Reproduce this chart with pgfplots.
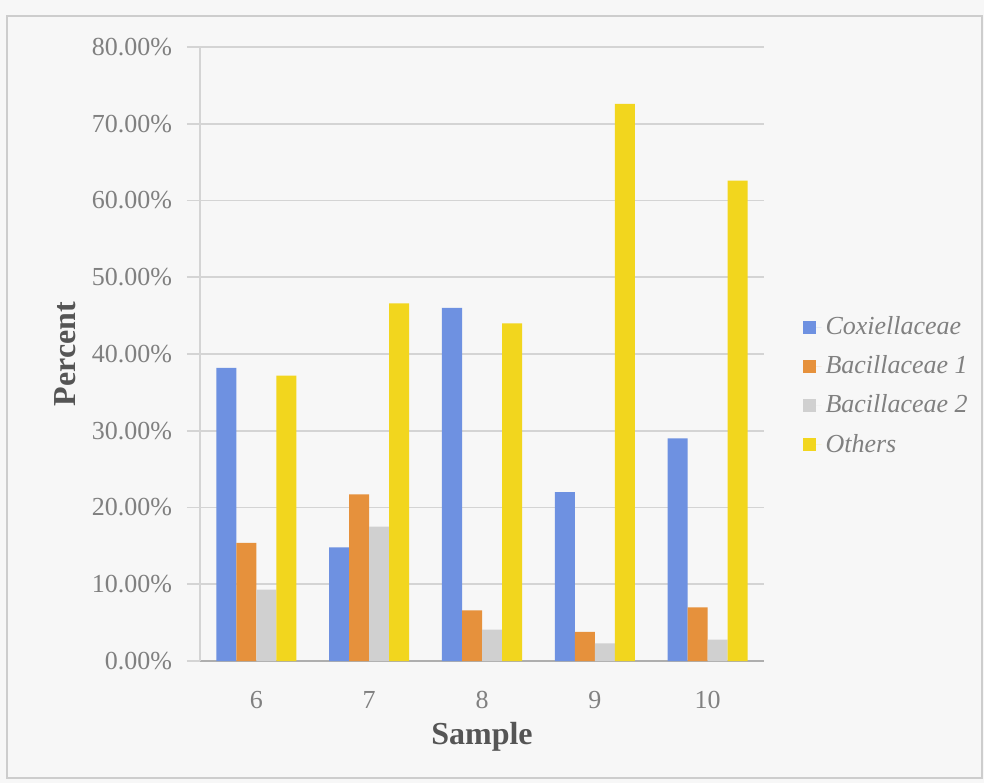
\documentclass[border=0pt]{standalone}
\usepackage{pgfplots}
\pgfplotsset{compat=1.18}
\usepackage{fontspec}
\setmainfont{Liberation Serif}
\definecolor{cox}{RGB}{110,145,225}
\definecolor{bac1}{RGB}{230,145,60}
\definecolor{bac2}{RGB}{208,208,208}
\definecolor{oth}{RGB}{242,214,30}
\definecolor{bgc}{RGB}{247,247,247}
\definecolor{framec}{RGB}{205,205,205}
\definecolor{gridc}{RGB}{212,212,212}
\definecolor{txtc}{RGB}{128,128,128}
\definecolor{labc}{RGB}{85,85,85}
\begin{document}
\begin{tikzpicture}
\fill[bgc] (-100pt,-61pt) rectangle (392pt,330.5pt);
\path[use as bounding box] (-100pt,-61pt) rectangle (392pt,330.5pt);
\draw[framec, line width=0.9pt] (-96.5pt,-58.5pt) rectangle (391pt,322.5pt);
\begin{axis}[
  at={(0pt,0pt)}, anchor=south west,
  width=282pt, height=307pt, scale only axis,
  xmin=5.5, xmax=10.5, ymin=0, ymax=80,
  enlargelimits=false,
  ybar=0pt, bar width=10pt,
  xtick={6,7,8,9,10},
  xticklabels={6,7,8,9,10},
  xtick style={draw=none},
  ytick={0,10,20,30,40,50,60,70,80},
  yticklabels={0.00\%,10.00\%,20.00\%,30.00\%,40.00\%,50.00\%,60.00\%,70.00\%,80.00\%},
  ymajorgrids, grid style={color=gridc, line width=0.8pt},
  axis x line*=bottom, axis y line*=left,
  axis line style={-},
  x axis line style={color=framec!85!black, line width=0.9pt},
  y axis line style={color=gridc, line width=0.6pt},
  ytick style={color=gridc, line width=0.8pt},
  tick align=outside, major tick length=6.5pt,
  ticklabel style={font=\fontsize{13}{15}\selectfont, text=txtc},
  yticklabel style={xshift=-4pt},
  xticklabel style={yshift=-5pt},
  xlabel={Sample}, ylabel={Percent},
  label style={font=\fontsize{16}{18}\selectfont\bfseries, text=labc},
  xlabel style={at={(axis description cs:0.5,0)}, anchor=center, yshift=-38pt},
  ylabel style={at={(axis description cs:0,0.5)}, anchor=center, yshift=67.5pt},
  legend style={draw=none, fill=none, at={(rel axis cs:1.058,0.448)}, anchor=west,
    font=\fontsize{13}{15}\selectfont\itshape, text=txtc, row sep=5pt},
  legend cell align=left,
  legend image code/.code={\fill[#1] (0pt,-0.32em) rectangle (0.62em,0.32em);
    \path (0pt,0pt) -- (0.62em+3pt,0pt);},
]
\addplot[fill=cox, draw=none] coordinates {(6,38.2) (7,14.8) (8,46.0) (9,22.0) (10,29.0)};
\addplot[fill=bac1, draw=none] coordinates {(6,15.4) (7,21.7) (8,6.6) (9,3.8) (10,7.0)};
\addplot[fill=bac2, draw=none] coordinates {(6,9.3) (7,17.5) (8,4.1) (9,2.3) (10,2.8)};
\addplot[fill=oth, draw=none] coordinates {(6,37.2) (7,46.6) (8,44.0) (9,72.6) (10,62.6)};
\legend{Coxiellaceae, Bacillaceae 1, Bacillaceae 2, Others}
\end{axis}
\end{tikzpicture}
\end{document}
